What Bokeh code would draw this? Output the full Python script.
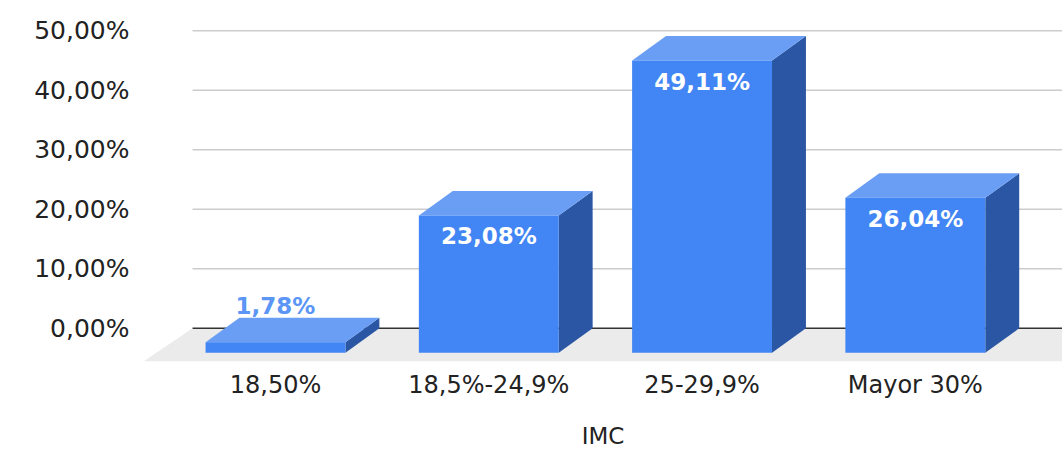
from bokeh.plotting import figure
from bokeh.models import Range1d, FixedTicker, ColumnDataSource
from bokeh.core.properties import value
from bokeh.embed import file_html
from bokeh.resources import INLINE

# ---- data ----
categories = ["18,50%", "18,5%-24,9%", "25-29,9%", "Mayor 30%"]
values = [1.78, 23.08, 49.11, 26.04]
value_labels = ["1,78%", "23,08%", "49,11%", "26,04%"]
y_ticks = [0, 10, 20, 30, 40, 50]
y_tick_labels = ["0,00%", "10,00%", "20,00%", "30,00%", "40,00%", "50,00%"]
x_title = "IMC"

# ---- geometry (3D look) ----
HALF_W = 0.328      # half width of the bar front face (category units)
DX = 0.159          # depth shift in x (category units)
DY = 4.12           # depth shift in y (value units)
FLOOR_DX = 0.23
FLOOR_DY = 5.58
X0, X1 = -0.619, 3.69
Y0, Y1 = -5.58, 53.41

FRONT = "#4285f4"
TOP = "#6a9ef5"
SIDE = "#2a56a3"
FONT = "DejaVu Sans"

p = figure(width=1062, height=453, output_backend="svg", toolbar_location=None,
           x_range=Range1d(X0, X1), y_range=Range1d(Y0, Y1),
           min_border_left=143, min_border_right=0, min_border_top=10,
           min_border_bottom=92)
p.outline_line_color = None
p.xgrid.visible = False
p.ygrid.visible = False
p.background_fill_color = "white"
p.border_fill_color = "white"

n = len(categories)

# floor
floor_front_right = (n - 1) + HALF_W + DX + 0.35
floor_xs = [[X0, X0 + FLOOR_DX, floor_front_right + FLOOR_DX + 1, floor_front_right]]
floor_ys = [[-FLOOR_DY, 0, 0, -FLOOR_DY]]
p.patches(floor_xs, floor_ys, fill_color="#ebebeb", line_color=None)

# gridlines
gx0 = X0 + FLOOR_DX
p.segment(x0=[gx0] * (len(y_ticks) - 1), y0=y_ticks[1:], x1=[X1] * (len(y_ticks) - 1),
          y1=y_ticks[1:], line_color="#cccccc", line_width=1.5)
p.segment(x0=[gx0], y0=[0], x1=[X1], y1=[0], line_color="#333333", line_width=1.5)

# bars
front_xs, front_ys, top_xs, top_ys, side_xs, side_ys = [], [], [], [], [], []
for i, v in enumerate(values):
    l, r = i - HALF_W, i + HALF_W
    front_xs.append([l, r, r, l])
    front_ys.append([-DY, -DY, v - DY, v - DY])
    top_xs.append([l, r, r + DX, l + DX])
    top_ys.append([v - DY, v - DY, v, v])
    side_xs.append([r, r + DX, r + DX, r])
    side_ys.append([-DY, 0, v, v - DY])
p.patches(side_xs, side_ys, fill_color=SIDE, line_color=None)
p.patches(top_xs, top_ys, fill_color=TOP, line_color=None)
p.patches(front_xs, front_ys, fill_color=FRONT, line_color=None)

# data labels: inside (white) when the bar is tall enough, otherwise above (blue)
inside = dict(x=[], y=[], t=[])
outside = dict(x=[], y=[], t=[])
for i, (v, t) in enumerate(zip(values, value_labels)):
    d = inside if v >= 10 else outside
    d["x"].append(i)
    d["y"].append(v - DY)
    d["t"].append(t)
p.text(x="x", y="y", text="t", source=ColumnDataSource(inside), text_color="white",
       text_baseline="middle", text_align="center", y_offset=21,
       text_font=value(FONT), text_font_size="23px", text_font_style="bold")
p.text(x="x", y="y", text="t", source=ColumnDataSource(outside), text_color="#5b96f6",
       text_baseline="middle", text_align="center", y_offset=-36,
       text_font=value(FONT), text_font_size="23px", text_font_style="bold")

# axes
p.xaxis.ticker = FixedTicker(ticks=list(range(n)))
p.xaxis.major_label_overrides = {i: c for i, c in enumerate(categories)}
p.xaxis.axis_line_color = None
p.xaxis.major_tick_line_color = None
p.xaxis.minor_tick_line_color = None
p.xaxis.major_tick_out = 0
p.xaxis.major_tick_in = 0
p.xaxis.major_label_standoff = 9
p.xaxis.major_label_text_font = FONT
p.xaxis.major_label_text_font_size = "24px"
p.xaxis.major_label_text_color = "#222222"
p.xaxis.axis_label = x_title
p.xaxis.axis_label_text_font = FONT
p.xaxis.axis_label_text_font_size = "23px"
p.xaxis.axis_label_text_font_style = "normal"
p.xaxis.axis_label_text_color = "#222222"
p.xaxis.axis_label_standoff = 21

p.yaxis.ticker = FixedTicker(ticks=y_ticks)
p.yaxis.major_label_overrides = {t: s for t, s in zip(y_ticks, y_tick_labels)}
p.yaxis.axis_line_color = None
p.yaxis.major_tick_line_color = None
p.yaxis.minor_tick_line_color = None
p.yaxis.major_tick_out = 0
p.yaxis.major_tick_in = 0
p.yaxis.major_label_standoff = 14
p.yaxis.major_label_text_font = FONT
p.yaxis.major_label_text_font_size = "25px"
p.yaxis.major_label_text_color = "#222222"

open("out.html", "w").write(file_html(p, INLINE))
